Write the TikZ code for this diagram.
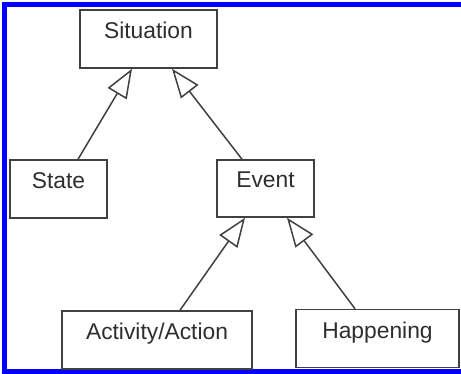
\documentclass[tikz,border=0pt]{standalone}
\usepackage{fontspec}
\setmainfont{Liberation Sans}
\usetikzlibrary{arrows.meta}
\definecolor{umLine}{HTML}{404040}
\definecolor{umText}{HTML}{2E2E2E}
\definecolor{umFrame}{HTML}{0000FF}
\tikzset{
  umbox/.style={rectangle, draw=umLine, line width=0.75pt, fill=white,
    minimum height=29pt, inner sep=0pt, text=umText,
    font=\fontsize{11.4}{13}\selectfont, text height=8.5pt, text depth=9pt},
  umgen/.style={-{Triangle[open, length=14.5pt, width=11pt, line width=0.75pt]},
    umLine, line width=0.75pt}
}
\begin{document}
\begin{tikzpicture}[x=0.5pt, y=-0.5pt]
  \useasboundingbox (0,0) rectangle (461,374);
  % frame, open on the right
  \draw[umFrame, line width=2.5pt] (470,4.5) -- (4.5,4.5) -- (4.5,371.5) -- (470,371.5);

  \node[umbox, minimum width=68.5pt] (sit) at (148.5,39) {Situation};
  \node[umbox, minimum width=48.5pt] (state) at (58.5,189) {State};
  \node[umbox, minimum width=48.5pt, minimum height=28.5pt] (event) at (265.5,188.5) {Event};
  \node[umbox, minimum width=95pt] (act) at (157,340) {Activity/Action};
  \node[umbox, minimum width=81.5pt] (hap) at (377.5,338.5) {Happening};

  \draw[umgen] ([xshift=9.75pt]state.north) -- ([xshift=-8.25pt]sit.south);
  \draw[umgen] ([xshift=-11.75pt]event.north) -- ([xshift=11.75pt]sit.south);
  \draw[umgen] ([xshift=11.5pt]act.north) -- ([xshift=-10.25pt]event.south);
  \draw[umgen] ([xshift=-11.25pt]hap.north) -- ([xshift=10.75pt]event.south);
\end{tikzpicture}
\end{document}
